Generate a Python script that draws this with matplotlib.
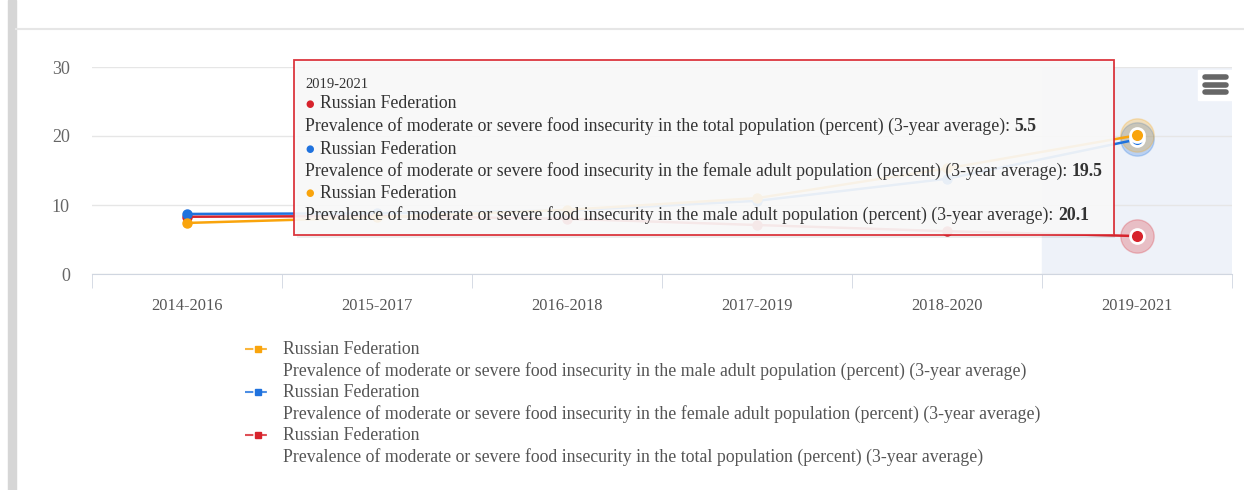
import matplotlib.pyplot as plt
from matplotlib.patches import Rectangle
from matplotlib.lines import Line2D

periods = ['2014-2016', '2015-2017', '2016-2018', '2017-2019', '2018-2020', '2019-2021']
male = [7.4, 8.2, 9.3, 11.0, 15.3, 20.1]
female = [8.7, 8.8, 9.2, 10.6, 13.8, 19.5]
total = [8.3, 8.4, 8.0, 7.1, 6.2, 5.5]

country = 'Russian Federation'
desc_male = 'Prevalence of moderate or severe food insecurity in the male adult population (percent) (3-year average)'
desc_female = 'Prevalence of moderate or severe food insecurity in the female adult population (percent) (3-year average)'
desc_total = 'Prevalence of moderate or severe food insecurity in the total population (percent) (3-year average)'

c_orange = '#f9a40c'
c_blue = '#1f72de'
c_red = '#d7232c'

plt.rcParams['font.family'] = ['Liberation Serif', 'DejaVu Serif']

W, H = 1244, 490
fig = plt.figure(figsize=(W / 100, H / 100), dpi=100)


def fx(x):
    return x / W


def fy(y):
    return 1 - y / H


# page frame
fig.patches.append(Rectangle((fx(8), 0), fx(8), 1, transform=fig.transFigure,
                             color='#d6d6d6', zorder=0))
fig.lines.append(Line2D([fx(16), 1], [fy(29), fy(29)], transform=fig.transFigure,
                        color='#e6e6e6', lw=1.5))

ax = fig.add_axes([fx(92), fy(274), fx(1140), fy(67) - fy(274)])
x = list(range(len(periods)))

# highlighted category band
ax.axvspan(4.5, 5.5, color='#eef2f9', zorder=0)

for vals, col in [(total, c_red), (female, c_blue), (male, c_orange)]:
    ax.plot(x, vals, color=col, lw=1.8, marker='o', ms=6.5, zorder=3)
    ax.plot(x[-1], vals[-1], 'o', color=col, ms=24, alpha=0.25, zorder=2)
    ax.plot(x[-1], vals[-1], 'o', color=col, ms=10, mec='white', mew=2, zorder=4)

ax.set_xlim(-0.5, 5.5)
ax.set_ylim(0, 30)
ax.set_yticks([0, 10, 20, 30])
ax.set_xticks(x)
ax.set_xticklabels(periods)
ax.set_xticks([i - 0.5 for i in range(7)], minor=True)
ax.grid(axis='y', color='#e6e6e6', lw=1)
ax.set_axisbelow(True)
for s in ['top', 'right', 'left']:
    ax.spines[s].set_visible(False)
ax.spines['bottom'].set_color('#d0d6e0')
ax.tick_params(axis='x', which='major', length=0, pad=17, labelsize=11.8, labelcolor='#555555')
ax.tick_params(axis='x', which='minor', length=10, color='#d0d6e0', direction='out')
ax.tick_params(axis='y', length=0, pad=16, labelsize=13, labelcolor='#666666')

# export menu icon
fig.patches.append(Rectangle((fx(1198), fy(100)), fx(34), fy(70) - fy(100),
                             transform=fig.transFigure, color='white', zorder=5))
for yy in [77, 85, 92]:
    fig.lines.append(Line2D([fx(1205), fx(1226)], [fy(yy), fy(yy)], transform=fig.transFigure,
                            color='#666666', lw=4, solid_capstyle='round', zorder=6))

# tooltip
shadow = Rectangle((fx(297), fy(238)), fx(818), fy(61) - fy(237), transform=fig.transFigure,
                   fc='#000000', ec='none', alpha=0.07, zorder=7)
box = Rectangle((fx(294), fy(235)), fx(820), fy(60) - fy(235), transform=fig.transFigure,
                fc='#fafafa', ec='#d9262f', lw=1.3, alpha=0.92, zorder=8)
fig.patches.extend([shadow, box])
fig.text(fx(305), fy(85), '2019-2021', fontsize=10.5, color='#333333', va='center', zorder=9)
tip_rows = [(104, c_red, desc_total, '5.5'),
            (149, c_blue, desc_female, '19.5'),
            (193, c_orange, desc_male, '20.1')]
for yy, col, desc, val in tip_rows:
    fig.text(fx(305), fy(yy), '\u25CF', fontsize=7, color=col, va='center', zorder=9,
             family='DejaVu Sans')
    fig.text(fx(320), fy(yy), country, fontsize=12.8, color='#333333', va='center', zorder=9)
    t = fig.text(fx(305), fy(yy + 22), desc + ': ', fontsize=12.8, color='#333333',
                 va='center', zorder=9)
    ann = fig.add_artist(plt.Annotation(val, xy=(1, 0), xycoords=t, va='bottom',
                                        fontsize=12.8, fontweight='bold', color='#333333'))
    ann.set_zorder(9)

# legend
leg_rows = [(349, c_orange, desc_male), (392, c_blue, desc_female), (435, c_red, desc_total)]
for yy, col, desc in leg_rows:
    fig.lines.append(Line2D([fx(245), fx(270)], [fy(yy), fy(yy)], transform=fig.transFigure,
                            color=col, lw=1.5, ls=(0, (4, 2.5)), alpha=0.8))
    fig.lines.append(Line2D([fx(257.5)], [fy(yy)], transform=fig.transFigure,
                            color=col, marker='s', ms=4.5, ls='none'))
    fig.text(fx(283), fy(yy), country, fontsize=12.8, color='#555555', va='center')
    fig.text(fx(283), fy(yy + 22), desc, fontsize=12.8, color='#555555', va='center')

fig.savefig('out.png', dpi=100)
